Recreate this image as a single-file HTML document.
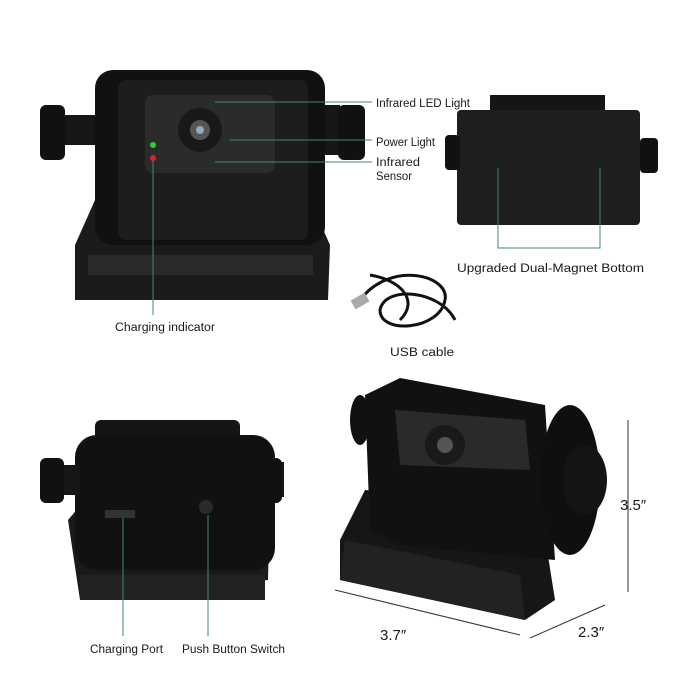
<!DOCTYPE html>
<html><head><meta charset="utf-8"><style>
html,body{margin:0;padding:0;background:#fff;}
svg{display:block}
text{font-family:"Liberation Sans",sans-serif;font-size:11.5px;fill:#1a1a1a;}
</style></head><body>
<svg width="700" height="700" viewBox="0 0 700 700" xmlns="http://www.w3.org/2000/svg">
<rect width="700" height="700" fill="#fff"/>
<!-- Top-left camera -->
<path d="M75 245 L95 200 L310 200 L330 245 L328 300 L75 300 Z" fill="#1b1b1b"/>
<rect x="88" y="255" width="225" height="20" fill="#2a2a2a"/>
<rect x="95" y="70" width="230" height="175" rx="18" fill="#111"/>
<rect x="118" y="80" width="190" height="160" rx="8" fill="#1d1d1d"/>
<rect x="145" y="95" width="130" height="78" rx="8" fill="#2b2b2b"/>
<circle cx="200" cy="130" r="22" fill="#181818"/>
<circle cx="200" cy="130" r="10" fill="#555"/>
<circle cx="200" cy="130" r="4" fill="#9ab"/>
<circle cx="153" cy="145" r="3" fill="#3c3"/>
<circle cx="153" cy="158" r="3" fill="#d22"/>
<rect x="60" y="115" width="35" height="30" fill="#161616"/>
<rect x="40" y="105" width="25" height="55" rx="6" fill="#111"/>
<rect x="325" y="105" width="15" height="50" fill="#161616"/>
<rect x="338" y="105" width="27" height="55" rx="6" fill="#111"/>
<g stroke="#3a8a7a" stroke-width="1" fill="none">
<polyline points="215,102 340,102 372,102"/>
<polyline points="230,140 372,140"/>
<polyline points="215,162 372,162"/>
<line x1="153" y1="160" x2="153" y2="315"/>
</g>
<text x="376" y="107" textLength="94" lengthAdjust="spacingAndGlyphs">Infrared LED Light</text>
<text x="376" y="146" textLength="59" lengthAdjust="spacingAndGlyphs">Power Light</text>
<text x="376" y="166" textLength="44" lengthAdjust="spacingAndGlyphs">Infrared</text>
<text x="376" y="180" textLength="36" lengthAdjust="spacingAndGlyphs">Sensor</text>
<text x="115" y="331" textLength="100" lengthAdjust="spacingAndGlyphs">Charging indicator</text>
<!-- Top-right magnet -->
<rect x="490" y="95" width="115" height="22" fill="#151515"/>
<rect x="457" y="110" width="183" height="115" rx="4" fill="#1e1e1e"/>
<rect x="445" y="135" width="15" height="35" rx="4" fill="#111"/>
<rect x="640" y="138" width="18" height="35" rx="4" fill="#111"/>
<g stroke="#3a8a7a" stroke-width="1" fill="none">
<polyline points="498,168 498,248 600,248 600,168"/>
</g>
<text x="457" y="272" textLength="187" lengthAdjust="spacingAndGlyphs">Upgraded Dual-Magnet Bottom</text>
<!-- USB cable -->
<g stroke="#111" stroke-width="3" fill="none">
<path d="M360 300 C390 260 450 275 445 300 C440 330 380 335 380 310 C385 285 440 290 455 320"/>
<path d="M370 275 C400 280 420 300 400 320"/>
</g>
<rect x="352" y="296" width="16" height="10" fill="#aaa" transform="rotate(-30 360 301)"/>
<text x="390" y="356" textLength="64" lengthAdjust="spacingAndGlyphs">USB cable</text>
<!-- Bottom-left camera back -->
<path d="M68 520 L85 500 L270 500 L268 580 L80 600 Z" fill="#1a1a1a"/>
<rect x="80" y="575" width="185" height="25" fill="#222"/>
<rect x="95" y="420" width="145" height="30" rx="6" fill="#151515"/>
<rect x="75" y="435" width="200" height="135" rx="22" fill="#111"/>
<rect x="60" y="465" width="20" height="30" fill="#161616"/>
<rect x="40" y="458" width="24" height="45" rx="6" fill="#111"/>
<rect x="272" y="462" width="12" height="35" fill="#161616"/>
<rect x="262" y="458" width="20" height="45" rx="6" fill="#111"/>
<rect x="105" y="510" width="30" height="8" fill="#333"/>
<circle cx="206" cy="507" r="7" fill="#2a2a2a"/>
<g stroke="#3a8a7a" stroke-width="1"><line x1="123" y1="518" x2="123" y2="636"/><line x1="208" y1="515" x2="208" y2="636"/></g>
<text x="90" y="653" textLength="73" lengthAdjust="spacingAndGlyphs">Charging Port</text>
<text x="182" y="653" textLength="103" lengthAdjust="spacingAndGlyphs">Push Button Switch</text>
<!-- Bottom-right 3/4 camera -->
<path d="M340 540 L365 490 L540 505 L555 600 L525 620 L340 580 Z" fill="#161616"/>
<path d="M345 540 L520 575 L525 620 L340 580 Z" fill="#222"/>
<path d="M365 395 L400 378 L545 405 L555 560 L400 545 L370 530 Z" fill="#111"/>
<path d="M395 410 L525 420 L530 470 L400 465 Z" fill="#2a2a2a"/>
<circle cx="445" cy="445" r="20" fill="#1a1a1a"/>
<circle cx="445" cy="445" r="8" fill="#555"/>
<ellipse cx="570" cy="480" rx="30" ry="75" fill="#0f0f0f"/>
<ellipse cx="585" cy="480" rx="22" ry="35" fill="#141414"/>
<ellipse cx="360" cy="420" rx="10" ry="25" fill="#111"/>
<g stroke="#333" stroke-width="1" fill="none">
<line x1="628" y1="420" x2="628" y2="592"/>
<line x1="335" y1="590" x2="520" y2="635"/>
<line x1="530" y1="638" x2="605" y2="605"/>
</g>
<text x="620" y="510" style="font-size:15px">3.5″</text>
<text x="380" y="640" style="font-size:15px">3.7″</text>
<text x="578" y="637" style="font-size:15px">2.3″</text>
</svg>
</body></html>
